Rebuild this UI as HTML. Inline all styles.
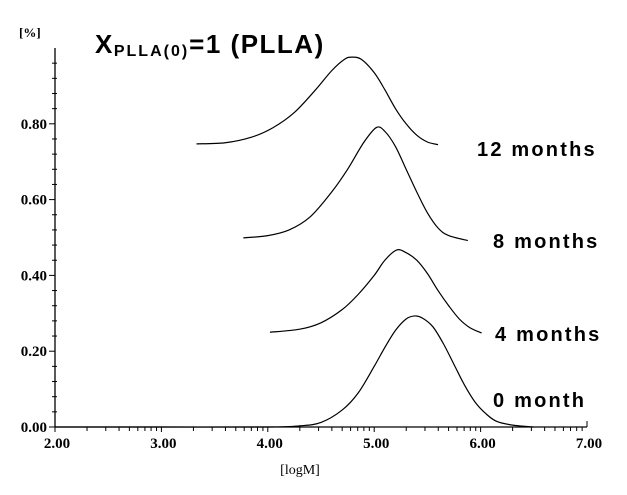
<!DOCTYPE html>
<html><head><meta charset="utf-8"><style>
body{margin:0;background:#fff;}
svg{display:block;font-family:"Liberation Serif",serif;}
.lab{font-family:"Liberation Sans",sans-serif;font-weight:bold;font-size:20px;letter-spacing:2.2px;}
</style></head><body>
<svg id="chart" width="627" height="495" viewBox="0 0 627 495">
<text x="19" y="37" font-size="13" font-weight="bold">[%]</text>
<text x="95" y="53" font-family="Liberation Sans,sans-serif" font-weight="bold" font-size="26" letter-spacing="1.5">X<tspan font-size="16" dy="3" letter-spacing="2">PLLA(0)</tspan><tspan dy="-3">=1 (PLLA)</tspan></text>
<text x="300" y="474" font-size="14" text-anchor="middle">[logM]</text>
<g id="axes"></g>
<g id="series"></g>
<text class="lab" x="477" y="156">12 months</text>
<text class="lab" x="493" y="248">8 months</text>
<text class="lab" x="495" y="341">4 months</text>
<text class="lab" x="493" y="407">0 month</text>
</svg>
<script>
const xTicks=[2,3,4,5,6,7];
const xTickLabels=["2.00","3.00","4.00","5.00","6.00","7.00"];
const yTicks=[0,0.2,0.4,0.6,0.8];
const yTickLabels=["0.00","0.20","0.40","0.60","0.80"];
const m0x=[2.0,3.0,4.0,4.3,4.5,4.7,4.85,5.0,5.1,5.2,5.3,5.38,5.45,5.55,5.65,5.75,5.85,5.95,6.05,6.15,6.3,6.5];
const m0y=[0,0,0,0.003,0.012,0.045,0.09,0.16,0.21,0.255,0.285,0.293,0.288,0.265,0.22,0.165,0.11,0.065,0.035,0.015,0.005,0];
const m4x=[4.02,4.3,4.5,4.7,4.85,5.0,5.1,5.21,5.3,5.4,5.5,5.6,5.7,5.8,5.9,6.01];
const m4y=[0.25,0.258,0.275,0.31,0.35,0.4,0.44,0.467,0.46,0.44,0.405,0.36,0.32,0.285,0.262,0.248];
const m8x=[3.77,4.0,4.2,4.4,4.6,4.75,4.9,5.02,5.1,5.2,5.3,5.4,5.5,5.6,5.7,5.88];
const m8y=[0.499,0.505,0.52,0.555,0.62,0.68,0.75,0.79,0.78,0.74,0.68,0.62,0.565,0.525,0.505,0.492];
const m12x=[3.33,3.6,3.85,4.05,4.25,4.45,4.6,4.72,4.79,4.88,5.0,5.1,5.2,5.3,5.4,5.5,5.6];
const m12y=[0.747,0.75,0.765,0.79,0.83,0.89,0.94,0.97,0.976,0.97,0.935,0.89,0.84,0.8,0.77,0.752,0.745];

const NS="http://www.w3.org/2000/svg";
const X=v=>55+(v-2)*106.4;
const Y=v=>427-v*379;
function mk(tag,attrs,parent){const e=document.createElementNS(NS,tag);for(const k in attrs)e.setAttribute(k,attrs[k]);parent.appendChild(e);return e;}
const ax=document.getElementById('axes');
let e=mk('line',{x1:X(2),y1:Y(0),x2:X(7),y2:Y(0),stroke:'#000','stroke-width':1.3},ax);


e=mk('line',{x1:X(2),y1:Y(0),x2:X(2),y2:Y(1),stroke:'#000','stroke-width':1.3},ax);


xTicks.forEach((t,i)=>{
  let l=mk('line',{x1:X(t),y1:Y(0),x2:X(t),y2:Y(0)+(i==5?-6:5),stroke:'#000'},ax);
  
  
  let tx=mk('text',{x:X(t)+2,y:448,'font-size':15,'font-weight':'bold','text-anchor':'middle'},ax);tx.textContent=xTickLabels[i];
  
  
  if(i<5){for(let k=2;k<=9;k++){const f=t+Math.log10(k);
    let m=mk('line',{x1:X(f),y1:Y(0),x2:X(f),y2:Y(0)+4,stroke:'#000'},ax);
    
    }}
});
yTicks.forEach((t,i)=>{
  let l=mk('line',{x1:X(2)-6,y1:Y(t),x2:X(2),y2:Y(t),stroke:'#000'},ax);
  
  
  let tx=mk('text',{x:X(2)-8,y:Y(t)+5,'font-size':15,'font-weight':'bold','text-anchor':'end'},ax);tx.textContent=yTickLabels[i];
  
  
});
for(let k=1;k<25;k++){if(k%5==0)continue;const v=k*0.04;
  let m=mk('line',{x1:X(2)-3,y1:Y(v),x2:X(2)+2,y2:Y(v),stroke:'#000'},ax);
  
  }
function path(xs,ys){const p=xs.map((x,i)=>[X(x),Y(ys[i])]);let d='M'+p[0][0]+','+p[0][1];
  for(let i=0;i<p.length-1;i++){const p0=p[i-1]||p[i],p1=p[i],p2=p[i+1],p3=p[i+2]||p2;
    d+=' C'+(p1[0]+(p2[0]-p0[0])/6)+','+(p1[1]+(p2[1]-p0[1])/6)+' '+(p2[0]-(p3[0]-p1[0])/6)+','+(p2[1]-(p3[1]-p1[1])/6)+' '+p2[0]+','+p2[1];}
  return d;}
const sg=document.getElementById('series');
[[m0x,m0y,'curve-0-month'],[m4x,m4y,'curve-4-months'],[m8x,m8y,'curve-8-months'],[m12x,m12y,'curve-12-months']].forEach(s=>{
  let p=mk('path',{d:path(s[0],s[1]),fill:'none',stroke:'#000','stroke-width':1.2},sg);
  
  
});
</script>
</body></html>
